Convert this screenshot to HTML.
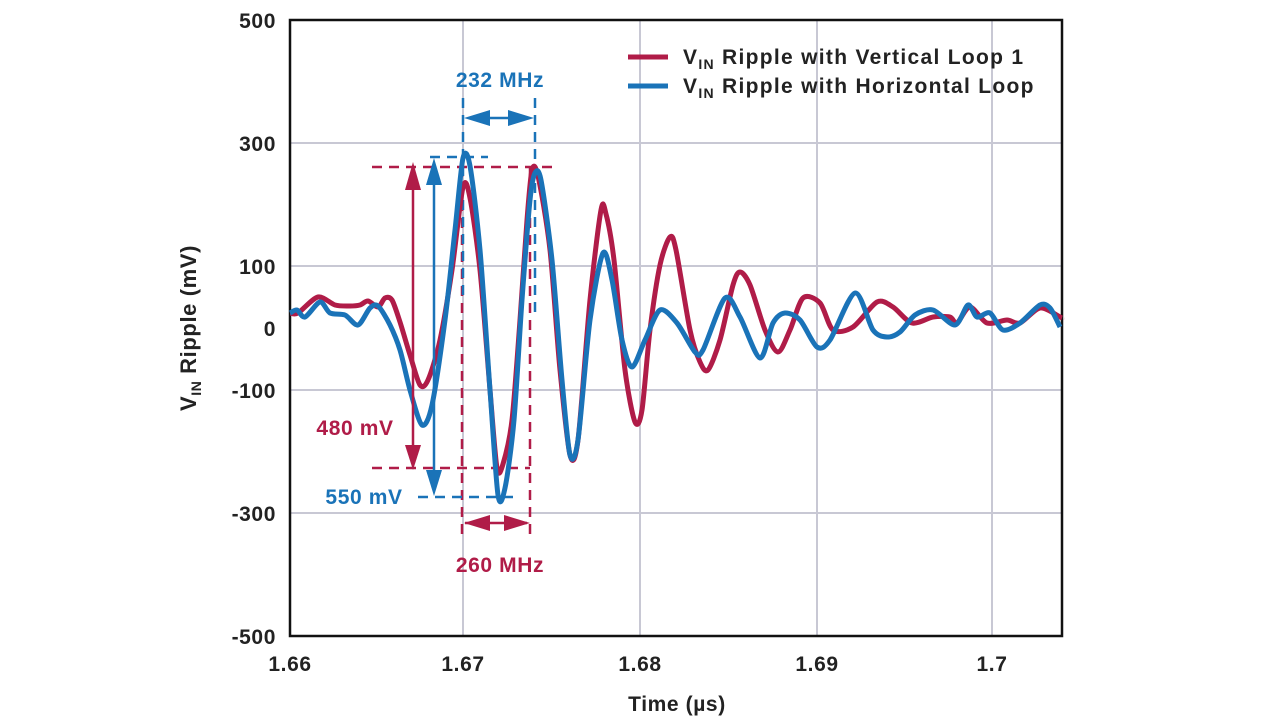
<!DOCTYPE html>
<html><head><meta charset="utf-8"><style>
body{margin:0;background:#fff;}
svg{display:block;font-family:"Liberation Sans",sans-serif;font-weight:bold;}
</style></head><body>
<svg width="1280" height="726" viewBox="0 0 1280 726">
<g stroke="#c8c8d4" stroke-width="2">
<line x1="463" y1="20" x2="463" y2="636"/><line x1="640" y1="20" x2="640" y2="636"/><line x1="817" y1="20" x2="817" y2="636"/><line x1="992" y1="20" x2="992" y2="636"/>
<line x1="290" y1="143" x2="1062" y2="143"/><line x1="290" y1="266" x2="1062" y2="266"/><line x1="290" y1="390" x2="1062" y2="390"/><line x1="290" y1="513" x2="1062" y2="513"/>
</g>
<rect x="290" y="20" width="772" height="616" fill="none" stroke="#111" stroke-width="2.5"/>
<g font-size="21" fill="#222" text-anchor="end" letter-spacing="0.6">
<text x="276" y="28">500</text><text x="276" y="151">300</text><text x="276" y="274">100</text><text x="276" y="336">0</text><text x="276" y="398">-100</text><text x="276" y="521">-300</text><text x="276" y="644">-500</text>
</g>
<g font-size="21" fill="#222" text-anchor="middle" letter-spacing="0.6">
<text x="290" y="671">1.66</text><text x="463" y="671">1.67</text><text x="640" y="671">1.68</text><text x="817" y="671">1.69</text><text x="992" y="671">1.7</text>
<text x="677" y="711">Time (µs)</text>
</g>
<text transform="translate(196,328) rotate(-90)" font-size="22" fill="#222" text-anchor="middle" letter-spacing="0.6">V<tspan font-size="14" dy="5">IN</tspan><tspan dy="-5"> Ripple (mV)</tspan></text>
<g stroke="#b01c48" stroke-width="2.5" stroke-dasharray="10,7" fill="none">
<line x1="372" y1="167" x2="555" y2="167"/><line x1="372" y1="468" x2="530" y2="468"/>
<line x1="462" y1="167" x2="462" y2="540"/><line x1="530" y1="167" x2="530" y2="540"/>
</g>
<g stroke="#1a73b8" stroke-width="2.5" stroke-dasharray="10,7" fill="none">
<line x1="430" y1="157" x2="488" y2="157"/><line x1="418" y1="497" x2="520" y2="497"/>
<line x1="463" y1="98" x2="463" y2="300"/><line x1="535" y1="98" x2="535" y2="312"/>
</g>
<path id="red" fill="none" stroke="#b01c48" stroke-width="5" stroke-linejoin="round"/>
<path id="blue" fill="none" stroke="#1a73b8" stroke-width="5" stroke-linejoin="round"/>
<g stroke="#b01c48" stroke-width="2.5">
<line x1="413" y1="170" x2="413" y2="465"/><line x1="465" y1="523" x2="527" y2="523"/>
</g>
<g fill="#b01c48"><path d="M405,190L413,162L421,190z"/><path d="M405,445L413,470L421,445z"/><path d="M464,523L490,515L490,531z"/><path d="M530,523L504,515L504,531z"/></g>
<g stroke="#1a73b8" stroke-width="2.5">
<line x1="434" y1="175" x2="434" y2="480"/><line x1="480" y1="118" x2="520" y2="118"/>
</g>
<g fill="#1a73b8"><path d="M426,185L434,158L442,185z"/><path d="M426,470L434,496L442,470z"/><path d="M464,118L490,110L490,126z"/><path d="M534,118L508,110L508,126z"/></g>
<g font-size="21" letter-spacing="0.6" text-anchor="middle">
<text x="500" y="87" fill="#1a73b8">232 MHz</text>
<text x="500" y="572" fill="#b01c48">260 MHz</text>
<text x="355" y="435" fill="#b01c48">480 mV</text>
<text x="364" y="504" fill="#1a73b8">550 mV</text>
</g>
<line x1="628" y1="57" x2="668" y2="57" stroke="#b01c48" stroke-width="5"/>
<line x1="628" y1="86" x2="668" y2="86" stroke="#1a73b8" stroke-width="5"/>
<text x="683" y="64" font-size="21" fill="#222" letter-spacing="1.3">V<tspan font-size="14" dy="5">IN</tspan><tspan dy="-5"> Ripple with Vertical Loop 1</tspan></text>
<text x="683" y="93" font-size="21" fill="#222" letter-spacing="1.3">V<tspan font-size="14" dy="5">IN</tspan><tspan dy="-5"> Ripple with Horizontal Loop</tspan></text>
</svg>
<script>
function sm(p){var k=7;var s="M"+p[0][0]+","+p[0][1];for(var i=0;i<p.length-1;i++){var a=p[i-1]||p[i],b=p[i],c=p[i+1],d=p[i+2]||c;s+="C"+(b[0]+(c[0]-a[0])/k).toFixed(1)+","+(b[1]+(c[1]-a[1])/k).toFixed(1)+" "+(c[0]-(d[0]-b[0])/k).toFixed(1)+","+(c[1]-(d[1]-b[1])/k).toFixed(1)+" "+c[0]+","+c[1];}return s;}
function P(str){return str.trim().split(/\s+/).map(function(t){return t.split(",").map(Number);});}
var r=P("290,313 298,313 318,297 335,305 350,306 360,305 368,301 378,307 385,298 392,300 400,322 410,355 420,385 428,380 440,340 452,270 463,187 470,198 480,270 490,390 497,468 503,464 512,420 520,320 527,220 532,170 538,176 550,250 560,370 570,455 578,440 590,300 601,210 606,214 614,260 625,370 635,422 642,410 650,330 660,265 670,237 676,250 690,330 700,362 708,370 720,340 733,285 740,272 750,285 765,330 778,352 790,330 803,298 820,303 833,330 853,327 877,302 893,307 912,323 933,317 950,317 957,323 970,307 987,323 1007,320 1020,323 1040,308 1060,317 1062,318");
var b=P("290,313 297,310 305,317 320,302 330,313 345,315 358,325 370,308 378,306 390,325 400,350 410,390 422,425 432,405 445,320 455,230 463,158 470,166 480,250 490,390 498,495 505,488 514,420 522,300 530,200 535,173 541,180 552,260 562,380 570,455 578,440 590,320 603,253 612,280 622,340 632,367 645,340 660,310 677,323 695,352 703,350 725,298 740,317 760,358 773,323 785,313 800,320 817,347 830,340 855,293 873,330 887,337 900,332 915,315 933,310 955,325 968,305 977,317 990,313 1003,330 1020,323 1040,305 1050,308 1060,327");
document.getElementById("red").setAttribute("d",sm(r));
document.getElementById("blue").setAttribute("d",sm(b));
</script>
</body></html>
